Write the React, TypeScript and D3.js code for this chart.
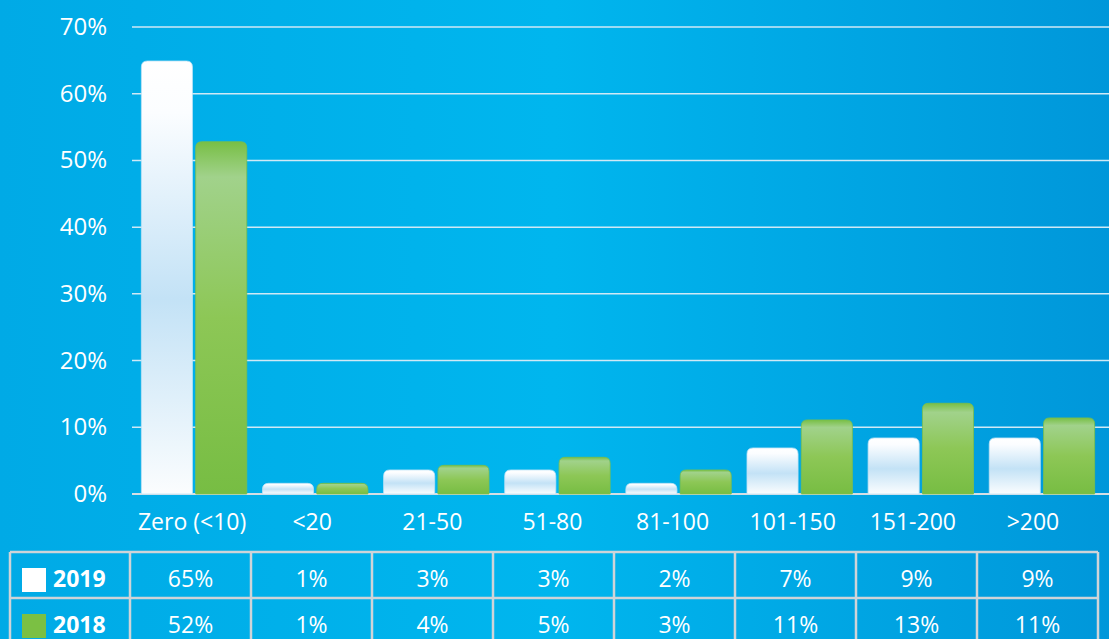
import React from "react";
import * as d3 from "d3";

const categories = ["Zero (<10)", "<20", "21-50", "51-80", "81-100", "101-150", "151-200", ">200"];
const series = ["2019", "2018"];
const values2019 = [64.9, 1.6, 3.6, 3.6, 1.6, 6.9, 8.4, 8.4];
const values2018 = [52.8, 1.6, 4.3, 5.5, 3.6, 11.1, 13.6, 11.4];
const table2019 = ["65%", "1%", "3%", "3%", "2%", "7%", "9%", "9%"];
const table2018 = ["52%", "1%", "4%", "5%", "3%", "11%", "13%", "11%"];
const yTicks = [0, 10, 20, 30, 40, 50, 60, 70];

const W = 1109;
const H = 639;
const FONT = "'Open Sans', 'Noto Sans', sans-serif";

function topRounded(x: number, y: number, w: number, h: number, r: number) {
  const rr = Math.min(r, h, w / 2);
  return `M${x},${y + h}V${y + rr}Q${x},${y} ${x + rr},${y}H${x + w - rr}Q${x + w},${y} ${x + w},${y + rr}V${y + h}Z`;
}

export default function App() {
  const x = d3.scaleBand<string>().domain(categories).range([133.5, 1102.5]).paddingInner(0.13).paddingOuter(0.065);
  const xs = d3.scaleBand<string>().domain(series).range([0, x.bandwidth()]).paddingInner(0.06);
  const xl = d3.scaleBand<string>().domain(categories).range([132, 1093]);
  const y = d3.scaleLinear().domain([0, 70]).range([494, 27]);
  const tx = d3.scaleBand<string>().domain(categories).range([130, 1098]);
  const rowTop = [552, 598];
  const data = [values2019, values2018];
  const tables = [table2019, table2018];

  return (
    <svg width={W} height={H} style={{ position: "absolute", left: 0, top: 0, display: "block" }} fontFamily={FONT}>
      <defs>
        <linearGradient id="bg" x1="0" y1="0" x2="1" y2="0">
          <stop offset="0" stopColor="#00aae6" />
          <stop offset="0.5" stopColor="#00b6ee" />
          <stop offset="1" stopColor="#0097da" />
        </linearGradient>
        <linearGradient id="g2019" x1="0" y1="0" x2="0" y2="1">
          <stop offset="0" stopColor="#ffffff" />
          <stop offset="0.12" stopColor="#fbfdff" />
          <stop offset="0.55" stopColor="#c3e2f6" />
          <stop offset="1" stopColor="#fbfdfe" />
        </linearGradient>
        <linearGradient id="g2018" x1="0" y1="0" x2="0" y2="1">
          <stop offset="0" stopColor="#78bf45" />
          <stop offset="0.1" stopColor="#a1d28b" />
          <stop offset="0.5" stopColor="#8dc756" />
          <stop offset="1" stopColor="#77bd43" />
        </linearGradient>
      </defs>
      <rect x={0} y={0} width={W} height={H} fill="url(#bg)" />
      {yTicks.map((t) => (
        <g key={t}>
          <line x1={132} x2={W} y1={y(t)} y2={y(t)} stroke={t === 0 ? "#d6dee4" : "#cfe9f6"} strokeWidth={t === 0 ? 2 : 1.5} />
          <text x={107} y={y(t) + 8} textAnchor="end" fill="#ffffff" fontSize={24}>{t}%</text>
        </g>
      ))}
      {categories.map((c, i) => (
        <g key={c}>
          {series.map((s, j) => {
            const v = data[j][i];
            const bx = (x(c) as number) + (xs(s) as number);
            const by = y(v);
            const bh = y(0) - by;
            return (
              <path
                key={s}
                d={topRounded(bx, by, xs.bandwidth(), bh, 6)}
                fill={j === 0 ? "url(#g2019)" : "url(#g2018)"}
                stroke={j === 0 ? "#bfe2f5" : "#7cbf4a"}
                strokeWidth={0.8}
              />
            );
          })}
          <text x={(xl(c) as number) + xl.bandwidth() / 2} y={530} textAnchor="middle" fill="#ffffff" fontSize={23}>{c}</text>
        </g>
      ))}
      {rowTop.map((ry, r) => (
        <g key={r}>
          <rect x={22} y={ry + 16} width={24} height={24} fill={r === 0 ? "#ffffff" : "#7bc043"} />
          <text x={53} y={ry + 35} fill="#ffffff" fontSize={23} fontWeight="bold">{series[r]}</text>
          {categories.map((c, i) => (
            <text key={c} x={(tx(c) as number) + tx.bandwidth() / 2} y={ry + 35} textAnchor="middle" fill="#ffffff" fontSize={23}>{tables[r][i]}</text>
          ))}
        </g>
      ))}
      {[552, 598, 644].map((ly) => (
        <line key={ly} x1={10} x2={1098} y1={ly} y2={ly} stroke="#cfd4d8" strokeWidth={2.5} />
      ))}
      {[10, ...categories.map((c) => tx(c) as number), 1098].map((lx, i) => (
        <line key={i} x1={lx} x2={lx} y1={552} y2={644} stroke="#cfd4d8" strokeWidth={2.5} />
      ))}
    </svg>
  );
}
